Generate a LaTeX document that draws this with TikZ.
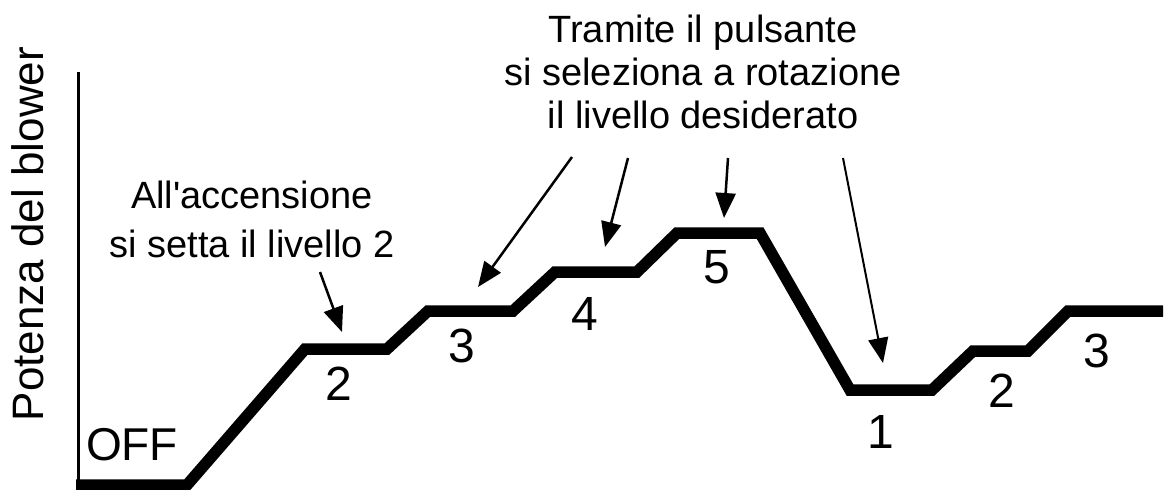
\documentclass[tikz,border=0pt]{standalone}
\usepackage{fontspec}
\setmainfont{Liberation Sans}
\usetikzlibrary{arrows.meta}
\tikzset{
  curve/.style={line width=11.5pt, line join=miter, line cap=butt},
  axisline/.style={line width=3pt},
  pointer/.style={line width=2.5pt, -{Triangle[length=25pt,width=20pt]}},
  pointerthin/.style={line width=2pt, -{Triangle[length=25pt,width=20pt]}},
  lbl/.style={inner sep=0pt, anchor=base, font=\fontsize{38}{45}\selectfont},
  lvl/.style={inner sep=0pt, anchor=base, font=\fontsize{48}{50}\selectfont},
}
\begin{document}
\begin{tikzpicture}[x=1pt,y=-1pt]
\useasboundingbox (0,0) rectangle (1168,490);
% axis
\coordinate (axtop) at (78,72);
\coordinate (axbot) at (78,485);
\draw[axisline] (axtop) -- (axbot);
\node[inner sep=0pt, anchor=base, rotate=90, font=\fontsize{44}{45}\selectfont] (ylab) at (43,234) {Potenza del blower};
% curve
\coordinate (p0) at (76,485);
\coordinate (p1) at (187,485);
\coordinate (p2) at (305,349);
\coordinate (p3) at (387,349);
\coordinate (p4) at (428,311);
\coordinate (p5) at (513,311);
\coordinate (p6) at (555,272);
\coordinate (p7) at (637,272);
\coordinate (p8) at (677,233);
\coordinate (p9) at (760,233);
\coordinate (p10) at (850,390);
\coordinate (p11) at (932,390);
\coordinate (p12) at (973,351);
\coordinate (p13) at (1028,351);
\coordinate (p14) at (1068,311);
\coordinate (p15) at (1163,311);
\draw[curve] (p0) -- (p1) -- (p2) -- (p3) -- (p4) -- (p5) -- (p6) -- (p7) -- (p8) -- (p9) -- (p10) -- (p11) -- (p12) -- (p13) -- (p14) -- (p15);
% level labels
\node[lvl, font=\fontsize{46}{50}\selectfont] (off) at (132,460) {OFF};
\node[lvl] (l2a) at (339,400) {2};
\node[lvl] (l3a) at (462,362) {3};
\node[lvl] (l4) at (585,330) {4};
\node[lvl] (l5) at (717,283) {5};
\node[lvl] (l1) at (881,448) {1};
\node[lvl] (l2b) at (1002,407) {2};
\node[lvl] (l3b) at (1097,367) {3};
% annotations
\node[lbl, align=center, font=\fontsize{38}{49}\selectfont] (acc) at (252,257) {All\textquotesingle accensione\\si setta il livello 2};
\node[lbl, align=center, font=\fontsize{38}{43}\selectfont] (tram) at (703,128) {Tramite il pulsante\\si seleziona a rotazione\\il livello desiderato};
% arrows
\coordinate (t1) at (320,272); \coordinate (h1) at (342,332);
\coordinate (t2) at (572,157); \coordinate (h2) at (478,287);
\coordinate (t3) at (628,158); \coordinate (h3) at (605,247);
\coordinate (t4) at (728,158); \coordinate (h4) at (724,218);
\coordinate (t5) at (843,158); \coordinate (h5) at (883,363);
\draw[pointer] (t1) -- (h1);
\draw[pointer] (t2) -- (h2);
\draw[pointer] (t3) -- (h3);
\draw[pointer] (t4) -- (h4);
\draw[pointerthin] (t5) -- (h5);
\end{tikzpicture}
\end{document}
